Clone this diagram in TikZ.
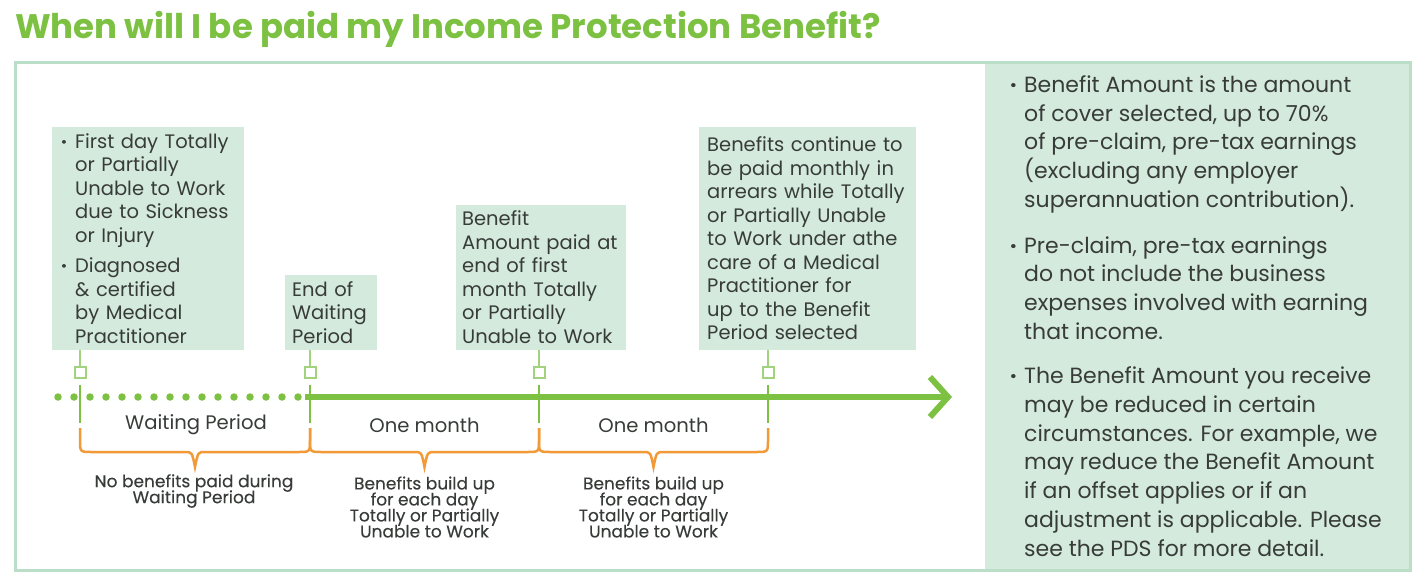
\documentclass[tikz,border=0pt]{standalone}
\usepackage{fontspec}
\setmainfont{Poppins}
\newfontfamily\titlefont{Poppins}
\newfontfamily\notefont{Poppins}[FakeBold=0.25]
\usetikzlibrary{arrows.meta,positioning}

\definecolor{leafgreen}{HTML}{7CC142}
\definecolor{linkgreen}{HTML}{A3D27E}
\definecolor{mint}{HTML}{D4EADC}
\definecolor{framemint}{HTML}{BBDEC9}
\definecolor{ink}{HTML}{383C39}
\definecolor{bracket}{HTML}{F29A38}

\newcommand{\bul}{\makebox[14pt][l]{\bfseries ·}}
\newcommand{\ind}{\hspace*{14pt}}
\newcommand{\tightlines}{\lineskiplimit -20pt\relax}

\begin{document}
\begin{tikzpicture}[
    x=1pt, y=-1pt,
    box/.style={fill=mint, text=ink, anchor=south west, align=left, inner ysep=0pt,
        font=\fontsize{19.5}{23.5}\selectfont},
    marker/.style={draw=linkgreen, fill=white, line width=2pt, minimum size=11pt, inner sep=0pt},
    link/.style={draw=linkgreen, line width=2pt},
    tick/.style={draw=leafgreen, line width=2pt},
    dotline/.style={draw=leafgreen, line width=7.5pt, line cap=round, dash pattern=on 0pt off 16pt},
    timeline/.style={draw=leafgreen, line width=6pt,
        -{Straight Barb[length=18pt, width=40pt, line width=6pt]}},
    brace/.style={draw=bracket, line width=2.5pt},
    period/.style={text=ink, font=\fontsize{19.6}{20}\selectfont},
    note/.style={text=ink, align=center, font=\notefont\fontsize{17}{16}\selectfont\tightlines}
]
\useasboundingbox (0,0) rectangle (1421,584);

% title
\node[anchor=base west, inner sep=0pt, text=leafgreen,
    font=\titlefont\bfseries\fontsize{34}{34}\selectfont] (title) at (15,38)
    {When will I be paid my Income Protection Benefit?};

% right hand panel and frame
\fill[mint] (985,62) rectangle (1410,570);
\draw[framemint, line width=3pt] (15,62) rectangle (1410,570);

% event boxes
\node[box, inner xsep=9pt, text width=174pt, minimum height=223pt] (injury) at (52,350)
    {\bul First day Totally\\ \ind or Partially\\ \ind Unable to Work\\ \ind due to Sickness\\ \ind or Injury\\[7pt]
     \bul Diagnosed\\ \ind \& certified\\ \ind by Medical\\ \ind Practitioner};
\node[box, inner xsep=7pt, text width=78pt, minimum height=75pt] (waitend) at (285,350)
    {End of\\ Waiting\\ Period};
\node[box, inner xsep=6pt, text width=158pt, minimum height=145pt] (firstpay) at (456,350)
    {Benefit\\ Amount paid at\\ end of first\\ month Totally\\ or Partially\\ Unable to Work};
\node[box, inner xsep=8pt, text width=201pt, minimum height=223pt] (ongoing) at (699,350)
    {Benefits continue to\\ be paid monthly in\\ arrears while Totally\\ or Partially Unable\\ to Work under athe\\ care of a Medical\\ Practitioner for\\ up to the Benefit\\ Period selected};

% markers under the boxes
\node[marker] (m0) at (80,372) {};
\node[marker] (m1) at (310,372) {};
\node[marker] (m2) at (539,372) {};
\node[marker] (m3) at (768,372) {};
\draw[link] (m0 |- injury.south) -- (m0.north);
\draw[link] (m1 |- waitend.south) -- (m1.north);
\draw[link] (m2 |- firstpay.south) -- (m2.north);
\draw[link] (m3 |- ongoing.south) -- (m3.north);

% time line
\coordinate (dotstart) at (58,397);
\coordinate (waitstop) at (305,397);
\coordinate (arrowtip) at (952,397);
\draw[dotline] (dotstart) -- (waitstop);
\draw[timeline] (waitstop) -- (arrowtip);
\foreach \x in {80,310,539,768}
    \draw[tick] (\x,385) -- (\x,423);

% periods
\node[period] (wait) at (196,425) {Waiting Period};
\node[period] (month1) at (424.5,425) {One month};
\node[period] (month2) at (653.5,425) {One month};

\foreach \a/\m/\b in {80/195/310, 310/424.5/539, 539/653.5/768}
    \draw[brace] (\a,428) -- (\a,440) .. controls (\a,452) .. (\a+12,452) -- (\m-10,452)
        .. controls (\m-3,452) .. (\m,467) .. controls (\m+3,452) .. (\m+10,452)
        -- (\b-12,452) .. controls (\b,452) .. (\b,440) -- (\b,428);

\node[note] (waitnote) at (194,491) {No benefits paid during\\ Waiting Period};
\node[note] (month1note) at (424.5,507) {Benefits build up\\ for each day\\ Totally or Partially\\ Unable to Work};
\node[note] (month2note) at (653.5,507) {Benefits build up\\ for each day\\ Totally or Partially\\ Unable to Work};

% notes in the panel
\node[anchor=west, align=left, inner sep=0pt, text=ink, font=\fontsize{22}{28.7}\selectfont] (facts) at (1010,316)
    {\bul Benefit Amount is the amount\\ \ind of cover selected, up to 70\%\\ \ind of pre-claim, pre-tax earnings\\
     \ind (excluding any employer\\ \ind superannuation contribution).\\[17pt]
     \bul Pre-claim, pre-tax earnings\\ \ind do not include the business\\ \ind expenses involved with earning\\ \ind that income.\\[16pt]
     \bul The Benefit Amount you receive\\ \ind may be reduced in certain\\ \ind circumstances. For example, we\\
     \ind may reduce the Benefit Amount\\ \ind if an offset applies or if an\\ \ind adjustment is applicable. Please\\ \ind see the PDS for more detail.};
\end{tikzpicture}
\end{document}
